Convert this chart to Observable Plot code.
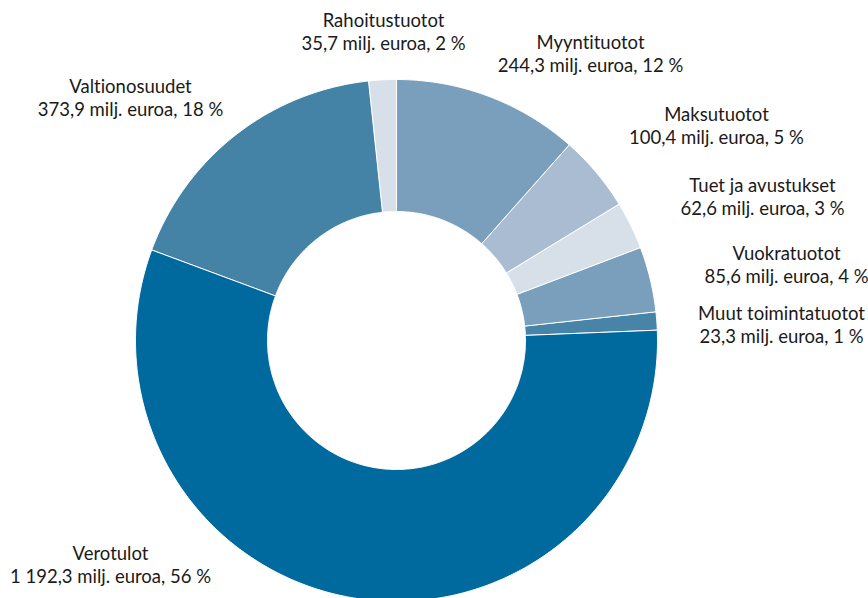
<!DOCTYPE html>
<html><head><meta charset="utf-8">
<script src="https://cdn.jsdelivr.net/npm/d3@7"></script>
<script src="https://cdn.jsdelivr.net/npm/@observablehq/plot@0.6"></script>
<style>html,body{margin:0;padding:0;background:#fff;overflow:hidden}
svg text{font-variant-ligatures:none;font-feature-settings:"liga" 0,"clig" 0,"dlig" 0}</style>
</head><body><div id="chart"></div>
<script>
// ---- data ----
const categories = ["Myyntituotot","Maksutuotot","Tuet ja avustukset","Vuokratuotot","Muut toimintatuotot","Verotulot","Valtionosuudet","Rahoitustuotot"];
const values = [244.3, 100.4, 62.6, 85.6, 23.3, 1192.3, 373.9, 35.7];
const valueLabels = ["244,3","100,4","62,6","85,6","23,3","1 192,3","373,9","35,7"];
const percentLabels = ["12 %","5 %","3 %","4 %","1 %","56 %","18 %","2 %"];

// ---- styles / layout ----
const palette = ["#7a9fbc","#a9bcd1","#d7dfe9","#7a9fbc","#4784a8","#006a9e","#4583a6","#d7dfe9"];
const W = 868, H = 598, CX = 396, CY = 340, R = 261, R0 = 129;
const labelAt = [[590,53],[716,125],[762,196],[786,264],[781,324],[110,564],[130,97],[383,31]];

const rows = categories.map((name, i) => ({name, value: values[i]}));
const arcs = d3.pie().sort(null).value(d => d.value)(rows);
const k = R0 / R;
function ring(a0, a1) {
  const n = Math.max(2, Math.ceil((a1 - a0) / (Math.PI / 360)));
  const pts = [];
  for (let i = 0; i <= n; i++) { const a = a0 + (a1 - a0) * i / n; pts.push([Math.sin(a), Math.cos(a)]); }
  for (let i = n; i >= 0; i--) { const a = a0 + (a1 - a0) * i / n; pts.push([k * Math.sin(a), k * Math.cos(a)]); }
  pts.push(pts[0]);
  return pts;
}
const features = arcs.map(p => ({type: "Feature", properties: {name: p.data.name},
  geometry: {type: "Polygon", coordinates: [ring(p.startAngle, p.endAngle)]}}));

const labels = categories.map((name, i) => ({
  text: `${name}\n${valueLabels[i]} milj. euroa, ${percentLabels[i]}`,
  x: (labelAt[i][0] - CX) / R,
  y: (CY - labelAt[i][1]) / R
}));

const domain = {type: "MultiPoint", coordinates: [[-CX / R, CY / R], [(W - CX) / R, -(H - CY) / R]]};

const chart = Plot.plot({
  width: W, height: H, margin: 0,
  projection: {type: "reflect-y", domain, inset: 0},
  color: {domain: categories, range: palette},
  style: {fontFamily: "Lato, 'Open Sans', sans-serif", background: "#fff"},
  marks: [
    Plot.geo(features, {fill: d => d.properties.name, stroke: "white", strokeWidth: 1}),
    Plot.text(labels, {x: "x", y: "y", text: "text", fontSize: 18.5, lineHeight: 1.25, fill: "#1a1a1a", textAnchor: "middle"})
  ]
});
document.getElementById("chart").append(chart);
</script>
</body></html>
